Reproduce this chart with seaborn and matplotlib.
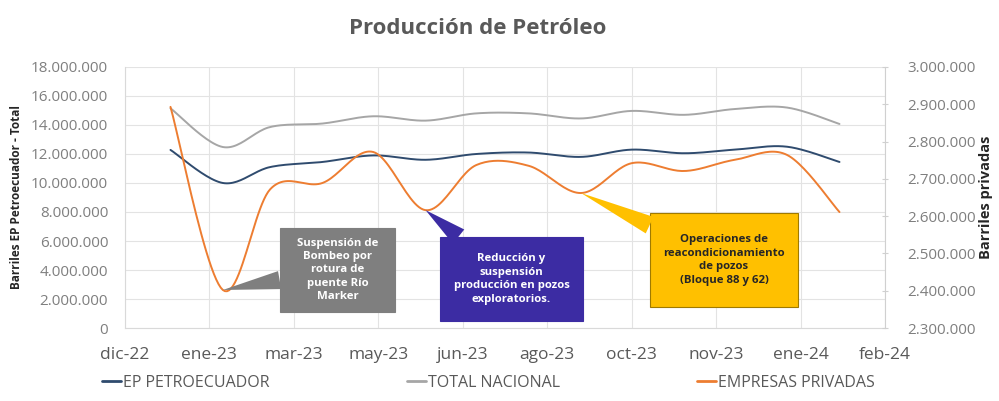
import numpy as np
import pandas as pd
import seaborn as sns
import matplotlib.pyplot as plt
import matplotlib.dates as mdates
from matplotlib.lines import Line2D
from matplotlib.patches import Rectangle
from matplotlib.ticker import FuncFormatter, MultipleLocator, FixedLocator

# produccion mensual (barriles)
meses = pd.date_range("2023-01-01", "2024-02-01", freq="MS")
ep_petroecuador = [12280000, 10000000, 11100000, 11450000, 11900000, 11600000, 12000000,
                   12100000, 11800000, 12300000, 12050000, 12300000, 12500000, 11450000]
total_nacional = [15150000, 12480000, 13860000, 14100000, 14600000, 14300000, 14800000,
                  14800000, 14450000, 14970000, 14700000, 15100000, 15200000, 14070000]
empresas_privadas = [2893000, 2402000, 2672000, 2689000, 2772000, 2616000, 2737000,
                     2735000, 2662000, 2742000, 2721000, 2751000, 2764000, 2611000]

series = ["EP PETROECUADOR", "TOTAL NACIONAL", "EMPRESAS PRIVADAS"]
colores = ["#2f4b6e", "#a6a6a6", "#ed7d31"]

meses_es = ["ene", "feb", "mar", "abr", "may", "jun", "jul", "ago", "sep", "oct", "nov", "dic"]

# callouts: (texto, indice del punto, caja en px de figura (x0, y0, ancho, alto), color caja, color texto)
notas = [
    ("Suspensión de\nBombeo por\nrotura de\npuente Río\nMarker", 1, (280, 89, 115, 84), "#7f7f7f", "white"),
    ("Reducción y\nsuspensión\nproducción en pozos\nexploratorios.", 5, (440, 80, 143, 84), "#3c2ca3", "white"),
    ("Operaciones de\nreacondicionamiento\nde pozos\n(Bloque 88 y 62)", 8, (650, 94, 148, 94), "#ffc000", "#262626"),
]


def suavizar(x, y, n=24):
    # curva tipo Excel (bezier con puntos de control tipo catmull-rom)
    x = np.asarray(x, float)
    y = np.asarray(y, float)
    px = np.concatenate([[x[0]], x, [x[-1]]])
    py = np.concatenate([[y[0]], y, [y[-1]]])
    xs, ys = [], []
    t = np.linspace(0, 1, n, endpoint=False)
    for i in range(1, len(px) - 2):
        p0 = np.array([px[i], py[i]])
        p3 = np.array([px[i + 1], py[i + 1]])
        c1 = p0 + (np.array([px[i + 1], py[i + 1]]) - np.array([px[i - 1], py[i - 1]])) / 6
        c2 = p3 - (np.array([px[i + 2], py[i + 2]]) - np.array([px[i], py[i]])) / 6
        pts = ((1 - t) ** 3)[:, None] * p0 + (3 * (1 - t) ** 2 * t)[:, None] * c1 \
            + (3 * (1 - t) * t ** 2)[:, None] * c2 + (t ** 3)[:, None] * p3
        xs.extend(pts[:, 0])
        ys.extend(pts[:, 1])
    xs.append(x[-1])
    ys.append(y[-1])
    return np.array(xs), np.array(ys)


sns.set_style("white")
plt.rcParams["font.family"] = ["Open Sans", "DejaVu Sans"]

W, H = 999, 401
fig = plt.figure(figsize=(W / 100, H / 100), dpi=100)
ax = fig.add_axes([0.125, 0.182, 0.761, 0.651])
ax2 = ax.twinx()

xnum = mdates.date2num(meses)
for valores, color, eje in [(ep_petroecuador, colores[0], ax), (total_nacional, colores[1], ax)]:
    xs, ys = suavizar(xnum, valores)
    sns.lineplot(x=mdates.num2date(xs), y=ys, color=color, lw=1.4, ax=eje, sort=False)
xs, ys = suavizar(xnum, empresas_privadas)
sns.lineplot(x=mdates.num2date(xs), y=ys, color=colores[2], lw=1.4, ax=ax2, sort=False)

# eje de fechas (tipo Excel, paso de 50 dias)
x0 = mdates.date2num(pd.Timestamp("2022-12-05"))
ax.set_xlim(x0, x0 + 450)
ax.xaxis.set_major_locator(FixedLocator([x0 + 50 * k for k in range(10)]))
ax.xaxis.set_major_formatter(FuncFormatter(
    lambda v, p: f"{meses_es[mdates.num2date(v).month - 1]}-{mdates.num2date(v).year % 100:02d}"))

fmt_miles = FuncFormatter(lambda v, p: f"{int(round(v)):,}".replace(",", "."))
ax.set_ylim(0, 18000000)
ax.yaxis.set_major_locator(MultipleLocator(2000000))
ax.yaxis.set_major_formatter(fmt_miles)
ax2.set_ylim(2300000, 3000000)
ax2.yaxis.set_major_locator(MultipleLocator(100000))
ax2.yaxis.set_major_formatter(fmt_miles)

ax.grid(True, color="#e3e3e3", lw=0.8)
ax.tick_params(axis="x", length=0, labelsize=12.5, colors="#595959", pad=14)
ax.tick_params(axis="y", length=0, labelsize=11, colors="#7f7f7f", pad=12)
ax2.tick_params(axis="y", length=4, direction="inout", color="#d0d0d0", labelsize=11,
                colors="#7f7f7f", pad=14)
for s in ["top", "right"]:
    ax.spines[s].set_visible(False)
ax2.spines["top"].set_visible(False)
ax2.spines["left"].set_visible(False)
ax2.spines["bottom"].set_visible(False)
ax.spines["left"].set_color("#d9d9d9")
ax.spines["bottom"].set_color("#d9d9d9")
ax2.spines["right"].set_color("#d0d0d0")

ax.set_xlabel("")
ax.set_ylabel("Barriles EP Petroecuador - Total", fontsize=8.5, fontweight="bold", color="#262626", labelpad=6)
ax2.set_ylabel("Barriles privadas", fontsize=10.5, fontweight="bold", color="#262626", labelpad=2)

fig.text(0.478, 0.93, "Producción de Petróleo", ha="center", va="center", fontsize=16,
         fontweight="bold", color="#595959")

for texto, i, (bx, by, bw, bh), color, color_texto in notas:
    borde = "#a07a00" if color == "#ffc000" else color
    caja = Rectangle((bx / W, by / H), bw / W, bh / H, transform=fig.transFigure,
                     fc=color, ec=borde, lw=0.8, clip_on=False, zorder=4)
    ax2.add_patch(caja)
    ax2.annotate(texto, xy=(meses[i], empresas_privadas[i]), xycoords="data",
                 xytext=((bx + bw / 2) / W, (by + bh / 2) / H), textcoords="figure fraction",
                 ha="center", va="center", fontsize=8.2, fontweight="bold", color=color_texto,
                 linespacing=1.3, zorder=5,
                 arrowprops=dict(arrowstyle="wedge,tail_width=1.6,shrink_factor=0.5",
                                 fc=color, ec=color, lw=0, patchA=caja, shrinkA=0, shrinkB=0))

handles = [Line2D([], [], color=c, lw=2) for c in colores]
fig.legend(handles, series, loc="center left", bbox_to_anchor=(0.088, 0.045), ncol=3,
           frameon=False, handlelength=1.2, handletextpad=0.1, columnspacing=8.6,
           prop={"size": 11.5}, labelcolor="#595959")

fig.savefig("out.png", dpi=100)
